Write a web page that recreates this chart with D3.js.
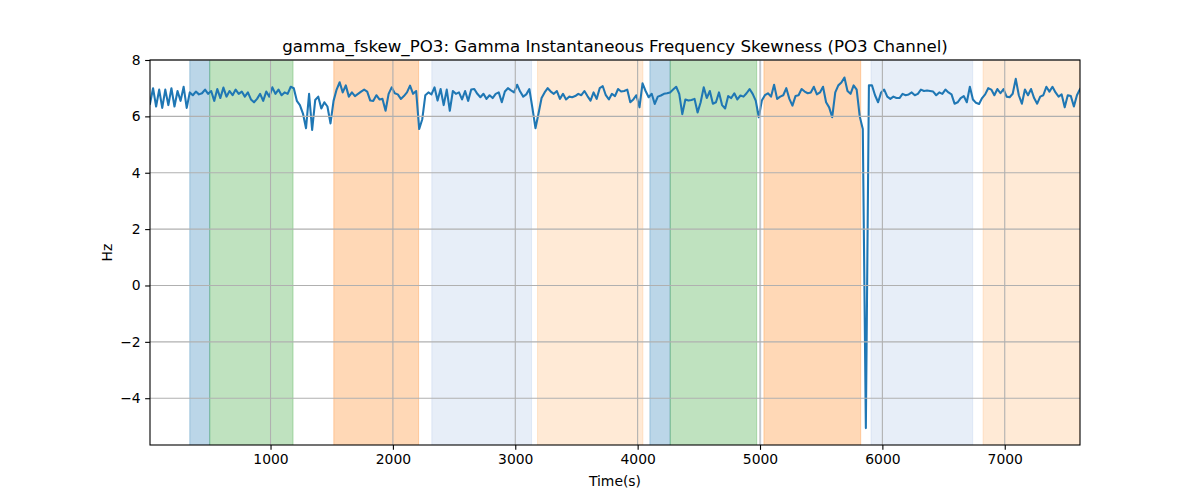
<!DOCTYPE html>
<html>
<head>
<meta charset="utf-8">
<script src="https://cdn.jsdelivr.net/npm/d3@7/dist/d3.min.js"></script>
<style>
  html, body { margin: 0; padding: 0; background: #fff; }
  svg text { font-family: "DejaVu Sans", sans-serif; fill: #000; }
</style>
</head>
<body>
<svg id="chart" width="1200" height="500"></svg>
<script>
// ---- data ----
const title = "gamma_fskew_PO3: Gamma Instantaneous Frequency Skewness (PO3 Channel)";
const xLabel = "Time(s)";
const yLabel = "Hz";
const xTicks = [1000, 2000, 3000, 4000, 5000, 6000, 7000];
const yTicks = [-4, -2, 0, 2, 4, 6, 8];
const xDomain = [15, 7615];
const yDomain = [-5.66, 8];
const tStart = 15;   // first sample time (s)
const tStep = 25;    // sampling interval (s)
const skewValues = [
  6.45, 7.00, 6.35, 6.95, 6.30, 6.95, 6.40, 7.00, 6.35, 6.90, 6.55, 7.05, 6.30,
  6.85, 6.75, 6.88, 6.78, 6.82, 6.95, 6.80, 6.90,
  6.55, 6.97, 6.65, 7.02, 6.70, 6.90, 6.75, 6.95, 6.80, 6.88,
  6.70, 6.85, 6.60, 6.50, 6.62, 6.80, 6.55, 6.88, 6.70, 7.03,
  6.80, 6.95, 6.75, 6.85, 6.80, 7.05,
  7.00, 6.55, 6.40, 6.10, 5.58, 6.80, 5.52, 6.58, 6.70, 6.28, 6.50, 6.35, 5.75, 6.55,
  6.95, 7.21, 6.85, 7.10, 6.70, 6.85, 6.72, 6.80, 6.88, 6.95,
  6.88, 6.56, 6.55, 6.75, 6.60, 6.62, 6.20, 6.80, 7.03, 6.82,
  6.78, 6.62, 6.72, 6.85, 7.09, 6.80, 6.90, 5.55, 5.90, 6.75, 6.85, 6.78,
  7.03, 6.56, 6.97, 6.40, 6.95, 6.20, 6.90, 6.80, 6.85, 6.60,
  6.90, 6.55, 6.95, 6.97, 6.80, 6.68, 6.80, 6.62, 6.75, 6.65,
  6.80, 6.85, 6.50, 6.88, 7.00, 6.92, 6.85, 7.12, 6.88, 6.70,
  6.78, 6.97, 6.30, 5.58, 6.10, 6.65, 6.85, 7.00,
  6.88, 6.80, 6.90, 6.62, 6.80, 6.60, 6.70, 6.68, 6.72, 6.80,
  6.75, 6.90, 6.72, 6.56, 6.85, 6.62, 7.00, 7.07, 6.75, 6.60, 6.80, 6.72, 6.97,
  6.88, 6.90, 6.95, 6.50, 6.60, 6.75, 6.32, 7.17, 6.90, 6.68,
  6.80, 6.44, 6.70, 6.74, 6.80, 6.82, 6.85, 6.95, 7.05, 6.80,
  6.08, 6.60, 6.56, 6.58, 6.62, 6.14, 6.50, 7.03, 6.65, 6.90,
  6.45, 6.50, 6.85, 6.40, 6.28, 6.72, 6.65, 6.82, 6.60, 6.74,
  6.70, 6.82, 6.97, 6.80, 6.56, 5.97, 6.56, 6.75, 6.82, 6.70, 7.12,
  6.62, 6.70, 6.75, 7.00, 6.62, 6.38, 6.72, 6.75, 6.97, 6.88,
  6.82, 6.85, 7.05, 6.78, 6.85, 7.05, 6.50, 6.32, 5.97,
  6.85, 7.10, 7.20, 7.38, 6.90, 6.80, 7.10, 6.95, 6.00, 5.55, -5.06, 7.10,
  7.10, 6.75, 6.50, 6.85, 6.95, 6.70, 6.62, 6.70, 6.65,
  6.65, 6.80, 6.75, 6.78, 6.85, 6.75, 6.80, 6.95, 6.90, 6.92,
  6.90, 6.88, 6.75, 6.85, 6.80, 6.95, 6.85, 6.78, 6.45, 6.50,
  6.65, 6.72, 6.50, 7.05, 6.60, 6.48, 6.44, 6.65, 6.78, 7.00,
  6.95, 6.75, 6.97, 6.82, 6.97, 6.70, 6.68, 6.80, 7.33, 6.75,
  6.45, 6.95, 6.75, 6.97, 6.65, 6.45, 6.70, 6.75, 7.05, 6.88,
  7.05, 6.85, 6.70, 6.78, 6.32, 6.75, 6.72, 6.35, 6.75, 6.97
];
// shaded intervals: start, end (s), colour key
const spanStarts = [340, 503, 1517, 2318, 3182, 4100, 4266, 5004, 5032, 5907, 6823];
const spanEnds   = [503, 1184, 2210, 3133, 4043, 4266, 4973, 5008, 5823, 6738, 7615];
const spanKinds  = ["blue", "green", "orange", "lightblue", "lightorange", "blue", "green", "lightblue", "orange", "lightblue", "lightorange"];
const spanColors = { blue: "#1f77b4", green: "#2ca02c", orange: "#ff7f0e", lightblue: "#aec7e8", lightorange: "#ffbb78" };

// ---- layout ----
const W = 1200, H = 500;
const m = { left: 150, right: 1080, top: 60, bottom: 445 };
const svg = d3.select("#chart");

const x = d3.scaleLinear().domain(xDomain).range([m.left, m.right]);
const y = d3.scaleLinear().domain(yDomain).range([m.bottom, m.top]);

svg.append("defs").append("clipPath").attr("id", "clip")
  .append("rect").attr("x", m.left).attr("y", m.top)
  .attr("width", m.right - m.left).attr("height", m.bottom - m.top);

const plot = svg.append("g").attr("clip-path", "url(#clip)");

// spans
plot.selectAll("rect.span").data(spanStarts.map((s, i) => ({ s, e: spanEnds[i], k: spanKinds[i] })))
  .enter().append("rect").attr("class", "span")
  .attr("x", d => x(d.s)).attr("width", d => Math.max(0.5, x(d.e) - x(d.s)))
  .attr("y", m.top - 2).attr("height", m.bottom - m.top + 4)
  .attr("fill", d => spanColors[d.k]).attr("fill-opacity", 0.3)
  .attr("stroke", d => spanColors[d.k]).attr("stroke-opacity", 0.3).attr("stroke-width", 1);

// grid
const grid = svg.append("g");
grid.selectAll("line.gx").data(xTicks).enter().append("line")
  .attr("x1", d => x(d)).attr("x2", d => x(d)).attr("y1", m.top).attr("y2", m.bottom)
  .attr("stroke", "#b0b0b0").attr("stroke-width", 1.1);
grid.selectAll("line.gy").data(yTicks).enter().append("line")
  .attr("y1", d => y(d)).attr("y2", d => y(d)).attr("x1", m.left).attr("x2", m.right)
  .attr("stroke", "#b0b0b0").attr("stroke-width", 1.1);

// line
const pts = skewValues.map((v, i) => [tStart + i * tStep, v]);
plot.append("path").datum(pts)
  .attr("fill", "none").attr("stroke", "#1f77b4").attr("stroke-width", 2.08)
  .attr("stroke-linejoin", "round").attr("stroke-linecap", "square")
  .attr("d", d3.line().x(d => x(d[0])).y(d => y(d[1])));

// axes
const fmt = d => d < 0 ? "\u2212" + Math.abs(d) : String(d);
const xAxis = svg.append("g").attr("transform", `translate(0,${m.bottom})`)
  .call(d3.axisBottom(x).tickValues(xTicks).tickFormat(fmt).tickSizeOuter(0).tickSize(4.86).tickPadding(4.5));
const yAxis = svg.append("g").attr("transform", `translate(${m.left},0)`)
  .call(d3.axisLeft(y).tickValues(yTicks).tickFormat(fmt).tickSizeOuter(0).tickSize(4.86).tickPadding(4.5));
[xAxis, yAxis].forEach(a => {
  a.select(".domain").remove();
  a.selectAll(".tick line").attr("stroke", "#000").attr("stroke-width", 1.1);
  a.selectAll(".tick text").attr("font-size", "13.9px").attr("font-family", "DejaVu Sans, sans-serif").attr("fill", "#000");
});

// frame
svg.append("rect").attr("x", m.left).attr("y", m.top)
  .attr("width", m.right - m.left).attr("height", m.bottom - m.top)
  .attr("fill", "none").attr("stroke", "#000").attr("stroke-width", 1.1);

// labels
svg.append("text").attr("x", (m.left + m.right) / 2).attr("y", 52)
  .attr("text-anchor", "middle").attr("font-size", "16.67px").text(title);
svg.append("text").attr("x", (m.left + m.right) / 2).attr("y", 486)
  .attr("text-anchor", "middle").attr("font-size", "13.9px").text(xLabel);
svg.append("text").attr("transform", `translate(112,${(m.top + m.bottom) / 2}) rotate(-90)`)
  .attr("text-anchor", "middle").attr("font-size", "13.9px").text(yLabel);
</script>
</body>
</html>
